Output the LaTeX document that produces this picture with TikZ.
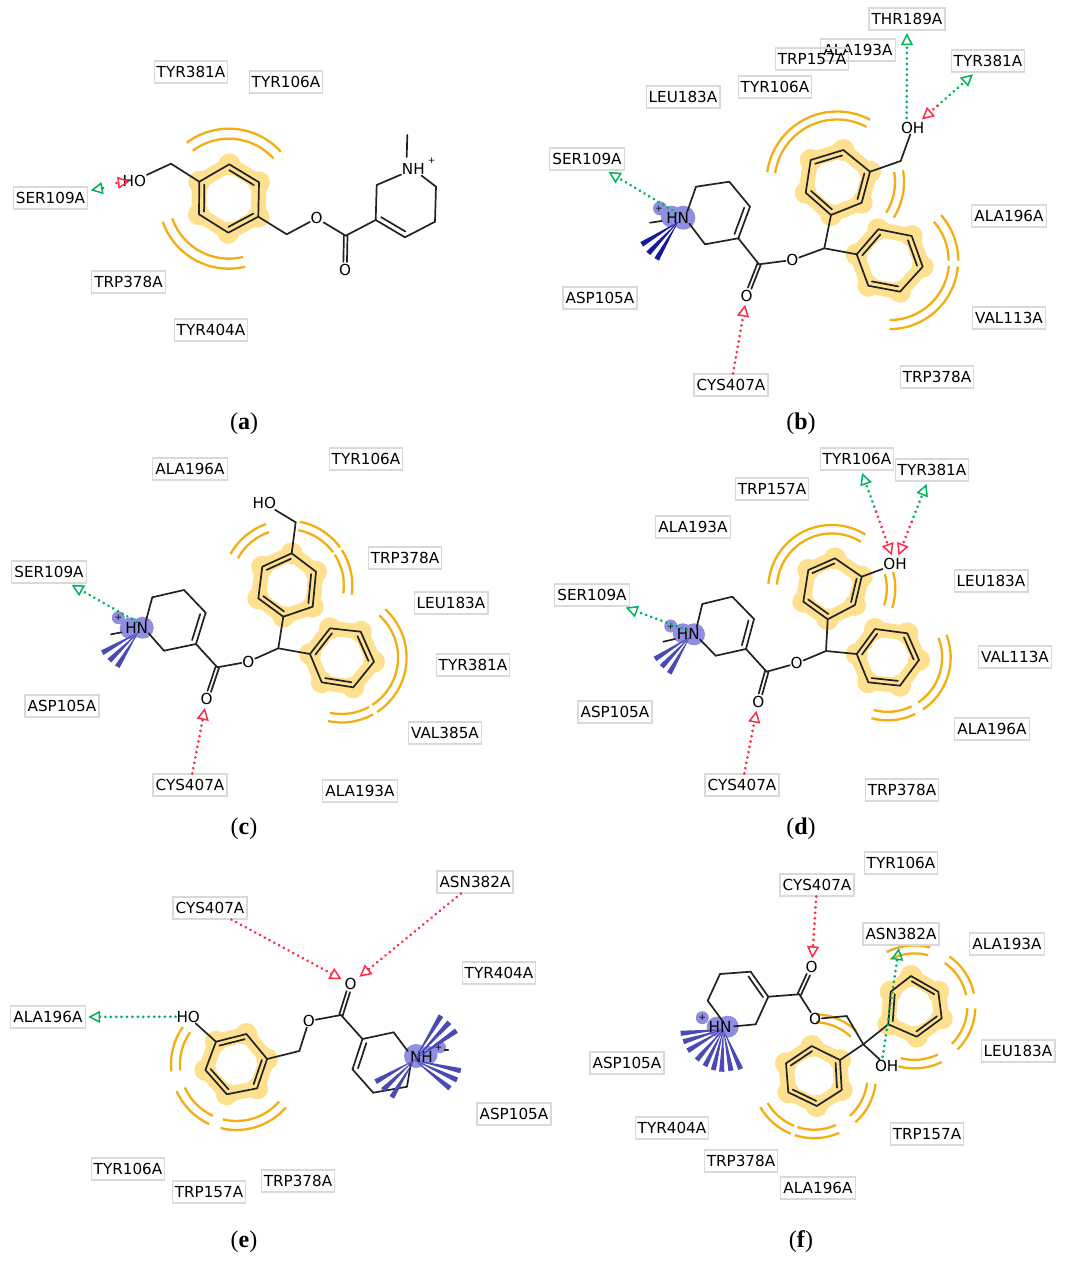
\documentclass[tikz,border=0pt]{standalone}
\usepackage{fontspec}
\setmainfont{Liberation Serif}
\newfontfamily\labelfamily{DejaVu Sans}
\usetikzlibrary{arrows.meta,calc}
\definecolor{boxgray}{HTML}{D9D9D9}
\definecolor{bondblack}{HTML}{222222}
\definecolor{hydro}{HTML}{F3AE12}
\definecolor{halofill}{HTML}{FEE08F}
\definecolor{blobblue}{HTML}{8F8FE2}
\definecolor{fanblue}{HTML}{4A4AB4}
\definecolor{fannavy}{HTML}{17179A}
\definecolor{hbgreen}{HTML}{00B25A}
\definecolor{hbred}{HTML}{FF2B46}
\tikzset{
	residue/.style={draw=boxgray, line width=1.2pt, inner xsep=2.6pt, inner ysep=0pt, minimum height=22pt, font=\labelfamily\fontsize{15.2}{16}\selectfont},
	atom/.style={inner sep=0.6pt, font=\labelfamily\fontsize{15.2}{16}\selectfont},
	charge/.style={inner sep=0pt, font=\labelfamily\fontsize{9}{9}\selectfont},
	subcap/.style={inner sep=0pt, font=\fontsize{24}{25}\selectfont},
	bond/.style={draw=bondblack, line width=1.7pt, line cap=round, line join=round},
	hydroarc/.style={draw=hydro, line width=2.3pt},
	halo/.style={draw=halofill, line width=15pt, line join=round},
	hbond/.style={line width=3pt, dash pattern=on 0.01pt off 5.4pt, line cap=round, shorten >=2.5pt,
		-{Triangle[open, length=12pt, width=12pt, line width=1.5pt]}},
	hbdon/.style={hbond, draw=hbgreen},
	hbacc/.style={hbond, draw=hbred}
}
\newcommand{\phring}[7]{
	\coordinate (#1p) at (#2);
	\coordinate (#1q) at (#3);
	\coordinate (#1r) at (#4);
	\coordinate (#1s) at (#5);
	\coordinate (#1t) at (#6);
	\coordinate (#1u) at (#7);
	\coordinate (#1o) at (barycentric cs:#1p=1,#1q=1,#1r=1,#1s=1,#1t=1,#1u=1);
	\draw[halo] (#1p) -- (#1q) -- (#1r) -- (#1s) -- (#1t) -- (#1u) -- cycle;
	\foreach \v in {p,q,r,s,t,u}
	\fill[halofill] (#1\v) circle (11);
	\draw[bond] (#1p) -- (#1q) -- (#1r) -- (#1s) -- (#1t) -- (#1u) -- cycle;
	\foreach \from/\to in {p/q,r/s,t/u}
	\draw[bond] ($(#1\from)!.17!(#1o)$) -- ($(#1\to)!.17!(#1o)$);
}
\newcommand{\hydroset}[5]{
	\foreach \r in {#4,#5}
	\draw[hydroarc] (#1) ++(#2:\r) arc[start angle=#2, end angle=#3, radius=\r];
}
\newcommand{\fanrays}[3]{
	\foreach \ex/\ey in {#3}
	\fill[#1] (#2) -- ($(\ex,\ey)!2.6pt!90:(#2)$) -- ($(\ex,\ey)!2.6pt!-90:(#2)$) -- cycle;
}
\newcommand{\carbonyl}[2]{
	\draw[bond, shorten >=8pt] ($(#1)!1.8pt!90:(#2)$) -- ($(#2)!1.8pt!-90:(#1)$);
	\draw[bond, shorten >=8pt] ($(#1)!1.8pt!-90:(#2)$) -- ($(#2)!1.8pt!90:(#1)$);
}
\begin{document}
\begin{tikzpicture}[x=1pt, y=1pt, yscale=-1]
	\useasboundingbox (0,0) rectangle (1065,1264);

	% panel a
	\phring{aa}{229.3,164.3}{259,182.3}{258.3,216.7}{228.3,232.7}{199,214.3}{199.3,181.7}
	\hydroset{aao}{233}{318}{60}{70}
	\hydroset{aao}{76.5}{160.7}{60}{70}
	\foreach \nm/\x/\y/\txt in {atyra/191/72/TYR381A, atyrb/286/82/TYR106A, aser/50.5/198/SER109A, atrp/128.5/282/TRP378A, atyrc/211/330/TYR404A}
	\node[residue] (\nm) at (\x,\y) {\txt};
	\foreach \nm/\x/\y/\txt in {aho/134.3/180.7/HO, aox/316.7/218.3/O, aod/345/270/O, anh/413.3/169.3/NH}
	\node[atom] (\nm) at (\x,\y) {\txt};
	\node[charge] (apl) at (431.7,160.7) {+};
	\foreach \nm/\x/\y in {acha/171/163.7, achb/286.7/234.3, acar/345.7/235.7, ahe/375.7/220, ahf/405/237.3, ahg/435/221.7, ahh/436/186.7, ahi/376.7/185, ame/407.3/135, amn/406.7/157, ahc/407/203, asa/103/188, asb/116.5/183}
	\coordinate (\nm) at (\x,\y);
	\foreach \from/\to in {aho/acha, acha/aau, aar/achb, achb/aox, aox/acar, acar/ahe, ahe/ahf, ahf/ahg, ahg/ahh, ahh/anh, anh/ahi, ahi/ahe, ame/amn}
	\draw[bond] (\from) -- (\to);
	\draw[bond] ($(ahe)!.17!(ahc)$) -- ($(ahf)!.17!(ahc)$);
	\carbonyl{acar}{aod}
	\draw[hbdon] (asa) -- (aser);
	\draw[hbacc, shorten >=-8pt] (asb) -- (aho);
	\node[subcap] (capa) at (244,424) {(\textbf{a})};

	% panel b
	\phring{ba}{810.7,160}{843.3,150}{870,171.7}{861.7,202.7}{831,215}{805.7,192.7}
	\phring{bb}{856.7,254.3}{878.3,229.3}{911.7,236}{922.7,266.7}{900,291.7}{868.3,285.7}
	\hydroset{bao}{188}{298}{62.5}{70.5}
	\hydroset{bao}{-10}{32}{58}{67}
	\hydroset{bbo}{-41.5}{0}{59}{68.7}
	\hydroset{bbo}{5}{90}{59.5}{68.5}
	\fill[blobblue] (683.3,217.7) circle (12);
	\fill[blobblue] (671.7,216.7) circle (11);
	\fill[blobblue] (660,208.3) circle (7);
	\coordinate (bfan) at (678,222);
	\fanrays{fannavy}{bfan}{641.7/244.3, 648.3/253.3, 656.7/259.3}
	\foreach \nm/\x/\y/\txt in {bthr/907/19/THR189A, btyra/988/61/TYR381A, bala/858/50/ALA193A, btrp/812/59/TRP157A, btyrb/775/87/TYR106A, bleu/683/97/LEU183A, bser/587/159/SER109A, balb/1009/216/ALA196A, basp/600/298/ASP105A, bval/1009/318/VAL113A, btrpb/937/377/TRP378A, bcys/731/385/CYS407A}
	\node[residue] (\nm) at (\x,\y) {\txt};
	\foreach \nm/\x/\y/\txt in {boh/912.7/127.7/OH, bhn/677.7/218.3/HN, box/792.3/260/O, bod/746.7/295.7/O}
	\node[atom] (\nm) at (\x,\y) {\txt};
	\node[charge] (bpl) at (659,208.7) {+};
	\foreach \nm/\x/\y in {bcha/900.7/161, bcen/824.3/248.3, bcar/759/264.3, bhe/738.3/238.3, bhf/750/206.7, bhg/729.3/181.7, bhh/696/186.7, bhi/705/244.3, bn/685/218, bhc/716/213, bme/650/222.7, bmn/661.7/221, bdon/677/213, bohs/906.7/118}
	\coordinate (\nm) at (\x,\y);
	\foreach \from/\to in {boh/bcha, bcha/bar, bat/bcen, bcen/bbp, bcen/box, box/bcar, bcar/bhe, bhe/bhf, bhf/bhg, bhg/bhh, bhi/bhe, bme/bmn}
	\draw[bond] (\from) -- (\to);
	\foreach \from in {bhh,bhi}
	\draw[bond, shorten >=7pt] (\from) -- (bn);
	\draw[bond] ($(bhe)!.17!(bhc)$) -- ($(bhf)!.17!(bhc)$);
	\carbonyl{bcar}{bod}
	\coordinate (bmid) at ($(boh)!.33!(btyra)$);
	\draw[hbdon] (bdon) -- (bser);
	\draw[hbdon] (bohs) -- (bthr);
	\draw[hbdon] (bmid) -- (btyra);
	\draw[hbacc] (bmid) -- (boh);
	\draw[hbacc] (bcys) -- (bod);
	\node[subcap] (capb) at (801,424) {(\textbf{b})};

	% panel c
	\phring{ca}{262.3,566.7}{291.7,553.3}{316,571.7}{312.7,606.7}{283.3,616.7}{258.3,598.3}
	\phring{cb}{310,654}{330,628.3}{360.7,631.7}{374,661.7}{353.3,687.3}{321.7,682.3}
	\hydroset{cao}{209}{251}{56.5}{65}
	\hydroset{cao}{-79}{-36}{56.5}{65}
	\hydroset{cao}{-33}{8}{56.5}{65}
	\hydroset{cbo}{-48}{57}{56.5}{65}
	\hydroset{cbo}{61}{102}{56.5}{65}
	\fill[blobblue] (142.7,627.7) circle (11);
	\fill[blobblue] (130.7,628.3) circle (11);
	\fill[blobblue] (118.3,617.7) circle (6.5);
	\coordinate (cfan) at (138.3,632.3);
	\fanrays{fanblue}{cfan}{102.3/652.7, 109.3/660.7, 117.3/666.7}
	\foreach \nm/\x/\y/\txt in {cala/190/469/ALA196A, ctyra/366/459/TYR106A, ctrp/405/558/TRP378A, cleu/451/603/LEU183A, ctyrb/473/665/TYR381A, cval/445/733/VAL385A, calb/360/791/ALA193A, ccys/190/785/CYS407A, casp/62/706/ASP105A, cser/49/572/SER109A}
	\node[residue] (\nm) at (\x,\y) {\txt};
	\foreach \nm/\x/\y/\txt in {cho/264.3/503.3/HO, chn/136.7/627.7/HN, cox/248.3/661.7/O, cod/206.7/699/O}
	\node[atom] (\nm) at (\x,\y) {\txt};
	\node[charge] (cpl) at (118.3,618) {+};
	\foreach \nm/\x/\y in {ccha/295.7/522.3, ccen/278.3/648.3, ccar/217.3/667.3, che/196/644, chf/205.7/612.7, chg/184/590, chh/152.3/597.3, chi/164/650.7, cn/144/628, chc/173/621, cme/111/634.3, cmn/121.7/632.3, cdon/136.7/621.7}
	\coordinate (\nm) at (\x,\y);
	\foreach \from/\to in {cho/ccha, ccha/caq, cat/ccen, ccen/cbp, ccen/cox, cox/ccar, ccar/che, che/chf, chf/chg, chg/chh, chi/che, cme/cmn}
	\draw[bond] (\from) -- (\to);
	\foreach \from in {chh,chi}
	\draw[bond, shorten >=7pt] (\from) -- (cn);
	\draw[bond] ($(che)!.17!(chc)$) -- ($(chf)!.17!(chc)$);
	\carbonyl{ccar}{cod}
	\draw[hbdon] (cdon) -- (cser);
	\draw[hbacc] (ccys) -- (cod);
	\node[subcap] (capc) at (244,829) {(\textbf{c})};

	% panel d
	\phring{da}{808.3,570}{835,558.3}{861.7,576.7}{855,605}{827.7,619.3}{803.3,601.7}
	\phring{db}{856.7,654}{875,629}{907.3,633.3}{919,660}{900,685.7}{868.3,682.3}
	\hydroset{dao}{184}{302}{55}{63.5}
	\hydroset{dao}{-15}{18}{55}{63.5}
	\hydroset{dbo}{-21}{56}{54.5}{63}
	\hydroset{dbo}{64}{105}{54.5}{63}
	\fill[blobblue] (694,634.3) circle (11);
	\fill[blobblue] (682.7,633.3) circle (10);
	\fill[blobblue] (670.7,626) circle (6.5);
	\coordinate (dfan) at (690,636.7);
	\fanrays{fanblue}{dfan}{655/659, 661.7/666.7, 669.3/673.3}
	\foreach \nm/\x/\y/\txt in {dtyra/857/459/TYR106A, dtyrb/932/470/TYR381A, dtrp/772/489/TRP157A, dala/693/527/ALA193A, dleu/991/581/LEU183A, dval/1015/657/VAL113A, dser/592/595/SER109A, dasp/615/712/ASP105A, dalb/992/729/ALA196A, dcys/742/785/CYS407A, dtrpb/902/790/TRP378A}
	\node[residue] (\nm) at (\x,\y) {\txt};
	\foreach \nm/\x/\y/\txt in {doh/895/564.3/OH, dhn/688.3/634.3/HN, dox/796.7/663.3/O, dod/758.3/701.7/O}
	\node[atom] (\nm) at (\x,\y) {\txt};
	\node[charge] (dpl) at (670.7,626.5) {+};
	\foreach \nm/\x/\y in {dcen/826/651, dcar/766.7/671.7, dhe/746/649, dhf/754/619, dhg/732.3/596.7, dhh/702.3/604, dhi/715.7/655.7, dn/695/634.3, dhc/722/627, dme/663.3/641.7, dmn/675/639, ddon/686.7/630}
	\coordinate (\nm) at (\x,\y);
	\foreach \from/\to in {dar/doh, dat/dcen, dcen/dbp, dcen/dox, dox/dcar, dcar/dhe, dhe/dhf, dhf/dhg, dhg/dhh, dhi/dhe, dme/dmn}
	\draw[bond] (\from) -- (\to);
	\foreach \from in {dhh,dhi}
	\draw[bond, shorten >=7pt] (\from) -- (dn);
	\draw[bond] ($(dhe)!.17!(dhc)$) -- ($(dhf)!.17!(dhc)$);
	\carbonyl{dcar}{dod}
	\coordinate (dmida) at ($(doh)!.5!(dtyra)$);
	\coordinate (dmidb) at ($(doh)!.45!(dtyrb)$);
	\draw[hbdon] (ddon) -- (dser);
	\draw[hbdon] (dmida) -- (dtyra);
	\draw[hbacc] (dmida) -- (doh);
	\draw[hbdon] (dmidb) -- (dtyrb);
	\draw[hbacc] (dmidb) -- (doh);
	\draw[hbacc] (dcys) -- (dod);
	\node[subcap] (capd) at (801,829) {(\textbf{d})};

	% panel e
	\phring{ea}{216,1041.7}{246.4,1034}{267.1,1059}{257.1,1088.3}{226.8,1094.3}{205.4,1070}
	\hydroset{eao}{174}{215}{56.5}{65.5}
	\hydroset{eao}{114.6}{156}{56.5}{65.5}
	\hydroset{eao}{41}{104}{56.5}{65.5}
	\fill[blobblue] (416,1056) circle (12);
	\fill[blobblue] (428.6,1055) circle (9);
	\fill[blobblue] (440,1047.3) circle (6);
	\coordinate (efan) at (414.3,1060);
	\foreach \nm/\x/\y/\txt in {ecys/210/908/CYS407A, easn/475/882/ASN382A, etyra/499/973/TYR404A, eala/48/1017/ALA196A, easp/514/1114/ASP105A, etyrb/128/1169/TYR106A, etrp/209/1192/TRP157A, etrpb/298/1181/TRP378A}
	\node[residue] (\nm) at (\x,\y) {\txt};
	\foreach \nm/\x/\y/\txt in {eho/188.2/1016.7/HO, enh/421.4/1056.7/NH, eox/308.9/1021/O, eod/350.7/984/O}
	\node[atom] (\nm) at (\x,\y) {\txt};
	\node[charge] (epl) at (438.6,1047.3) {+};
	\foreach \nm/\x/\y in {echa/299.3/1051, ecar/341/1015, ehe/362.5/1039, ehf/352.5/1069.3, ehg/373.2/1092.7, ehh/407/1086.7, ehi/393.6/1032.3, en/412/1056.7, ehc/385/1063, eme/444.6/1050, emn/448.2/1050}
	\coordinate (\nm) at (\x,\y);
	\foreach \from/\to in {eho/eap, ear/echa, echa/eox, eox/ecar, ecar/ehe, ehe/ehf, ehf/ehg, ehg/ehh, ehi/ehe, eme/emn}
	\draw[bond] (\from) -- (\to);
	\foreach \from in {ehh,ehi}
	\draw[bond, shorten >=7pt] (\from) -- (en);
	\draw[bond] ($(ehe)!.17!(ehc)$) -- ($(ehf)!.17!(ehc)$);
	\carbonyl{ecar}{eod}
	\fanrays{fanblue}{efan}{441/1015.7, 449.3/1022.3, 456.4/1030.7, 460.7/1070.7, 457.1/1080, 450/1088.3, 375.7/1081.7, 382.9/1090, 391.8/1097.3}
	\draw[hbdon] (eho) -- (eala);
	\draw[hbacc] (ecys) -- (eod);
	\draw[hbacc] (easn) -- (eod);
	\node[subcap] (cape) at (244,1242) {(\textbf{e})};

	% panel f
	\phring{fa}{911,976}{938.3,991.7}{941.7,1018.3}{916.7,1036.7}{888.3,1024.3}{890.7,991.7}
	\phring{fb}{786,1063.3}{811.7,1046}{840,1060}{841.7,1090}{816.7,1106}{788.3,1092.3}
	\hydroset{fao}{243}{285}{53}{61}
	\hydroset{fao}{-55}{-12}{53}{61}
	\hydroset{fao}{2}{45}{53}{61}
	\hydroset{fao}{64}{105}{53.5}{62}
	\hydroset{fbo}{112}{150}{53.5}{62}
	\hydroset{fbo}{66}{108}{53.5}{62}
	\hydroset{fbo}{7}{48}{53.5}{62}
	\hydroset{fbo}{-88}{-47}{54}{62}
	\fill[blobblue] (727.7,1026.7) circle (11);
	\fill[blobblue] (716.7,1026.7) circle (10);
	\fill[blobblue] (702.3,1017.7) circle (6.5);
	\coordinate (ffan) at (723.3,1029.3);
	\fanrays{fanblue}{ffan}{680.7/1033.3, 683.3/1041.7, 687.7/1050.7, 696.7/1060, 705/1066, 713.3/1070, 721.7/1071.7, 731/1070.7, 740.7/1069}
	\foreach \nm/\x/\y/\txt in {ftyra/901/863/TYR106A, fcys/817/885/CYS407A, fasn/901/934/ASN382A, fala/1007/944/ALA193A, fleu/1018/1051/LEU183A, fasp/627/1063/ASP105A, ftyrb/672/1128/TYR404A, ftrp/927/1134/TRP157A, ftrpb/741/1161/TRP378A, falb/818/1188/ALA196A}
	\node[residue] (\nm) at (\x,\y) {\txt};
	\foreach \nm/\x/\y/\txt in {foh/886.7/1066/OH, fhn/720/1026.7/HN, fox/815/1019/O, fod/811.7/967.3/O}
	\node[atom] (\nm) at (\x,\y) {\txt};
	\node[charge] (fpl) at (702.3,1018) {+};
	\foreach \nm/\x/\y in {fcen/863.3/1044.3, fcha/846.7/1016, fcar/799.3/994.3, fhe/768.3/996.7, fhf/750.7/971.7, fhg/720/974, fhh/707.7/1000.7, fhi/755.7/1024.3, fn/727/1027, fhc/737/999, fdon/882.7/1056.7}
	\coordinate (\nm) at (\x,\y);
	\foreach \from/\to in {fcen/fat, fcen/fbr, fcen/fcha, fcha/fox, fcen/foh, fox/fcar, fcar/fhe, fhe/fhf, fhf/fhg, fhg/fhh, fhi/fhe}
	\draw[bond] (\from) -- (\to);
	\foreach \from in {fhh,fhi}
	\draw[bond, shorten >=7pt] (\from) -- (fn);
	\draw[bond] ($(fhe)!.17!(fhc)$) -- ($(fhf)!.17!(fhc)$);
	\carbonyl{fcar}{fod}
	\draw[hbdon] (fdon) -- (fasn);
	\draw[hbacc] (fcys) -- (fod);
	\node[subcap] (capf) at (801,1242) {(\textbf{f})};
\end{tikzpicture}
\end{document}
